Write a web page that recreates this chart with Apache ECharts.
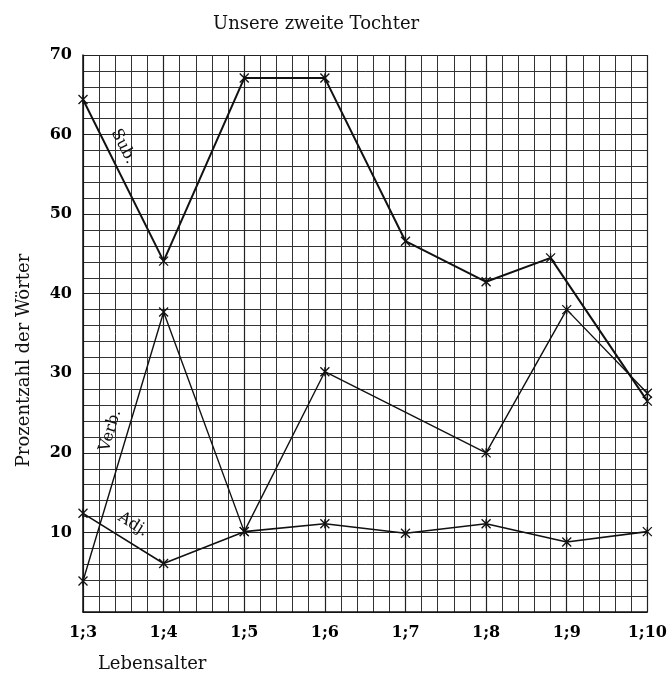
<!DOCTYPE html>
<html>
<head>
<meta charset="utf-8">
<title>Unsere zweite Tochter</title>
<script src="https://cdn.jsdelivr.net/npm/echarts@6/dist/echarts.min.js"></script>
<style>
  html, body { margin: 0; padding: 0; background: #fff; }
  #chart { width: 670px; height: 678px; }
</style>
</head>
<body>
<div id="chart"></div>
<script>
// Lebensalter in Monaten (1;3 = 3 ... 1;10 = 10)
const ageTicks = [3, 4, 5, 6, 7, 8, 9, 10];
const subAges = [3, 4, 5, 6, 7, 8, 8.8, 10];
const subValues = [64.4, 44.1, 67.1, 67.1, 46.6, 41.5, 44.5, 26.5];
const verbAges = [3, 4, 5, 6, 8, 9, 10];
const verbValues = [3.9, 37.7, 10.1, 30.2, 20.0, 38.0, 27.5];
const adjAges = [3, 4, 5, 6, 7, 8, 9, 10];
const adjValues = [12.4, 6.1, 10.1, 11.1, 9.9, 11.1, 8.8, 10.1];

const serif = 'DejaVu Serif';
const cross = 'path://M0,0L10,10M10,0L0,10M5,0L5,10';

function pairs(xs, ys) {
  return xs.map((x, i) => [x, ys[i]]);
}

function lineLabel(text, coord, rotate) {
  return {
    symbolSize: 0,
    data: [{ coord: coord }],
    label: {
      show: true,
      position: 'inside',
      formatter: text,
      rotate: rotate,
      color: '#111',
      fontFamily: serif,
      fontSize: 16
    }
  };
}

function makeSeries(name, xs, ys, width, label) {
  return {
    name: name,
    type: 'line',
    data: pairs(xs, ys),
    symbol: cross,
    symbolSize: 9,
    lineStyle: { color: '#111', width: width },
    itemStyle: { color: 'transparent', borderColor: '#111', borderWidth: 1.3 },
    markPoint: label,
    animation: false,
    z: 5
  };
}

const chart = echarts.init(document.getElementById('chart'));
chart.setOption({
  backgroundColor: '#fff',
  title: {
    text: 'Unsere zweite Tochter',
    left: 208,
    top: 10,
    textStyle: { fontFamily: serif, fontSize: 18, fontWeight: 'normal', color: '#111' }
  },
  grid: { left: 83, right: 22, top: 55, bottom: 60 },
  xAxis: {
    type: 'value',
    min: 3,
    max: 10,
    interval: 1,
    name: 'Lebensalter',
    nameLocation: 'middle',
    nameGap: 43,
    nameTextStyle: { fontFamily: serif, fontSize: 18, color: '#111', padding: [0, 426, 0, 0] },
    axisLine: { lineStyle: { color: '#111', width: 1.5 } },
    axisTick: { show: false },
    axisLabel: {
      fontFamily: serif, fontSize: 16, fontWeight: 'bold', color: '#000', margin: 13,
      formatter: v => '1;' + v
    },
    splitLine: { show: true, lineStyle: { color: '#222', width: 1.2 } },
    minorTick: { show: false, splitNumber: 5 },
    minorSplitLine: { show: true, lineStyle: { color: '#333', width: 1 } }
  },
  yAxis: {
    type: 'value',
    min: 0,
    max: 70,
    interval: 10,
    name: 'Prozentzahl der Wörter',
    nameLocation: 'middle',
    nameRotate: 90,
    nameGap: 50,
    nameTextStyle: { fontFamily: serif, fontSize: 18, color: '#111', padding: [0, 54, 0, 0] },
    axisLine: { show: true, lineStyle: { color: '#111', width: 1.5 } },
    axisTick: { show: false },
    axisLabel: {
      fontFamily: serif, fontSize: 16, fontWeight: 'bold', color: '#000', margin: 11,
      formatter: v => (v === 0 ? '' : v)
    },
    splitLine: { show: true, lineStyle: { color: '#222', width: 1.2 } },
    minorTick: { show: false, splitNumber: 5 },
    minorSplitLine: { show: true, lineStyle: { color: '#333', width: 1 } }
  },
  series: [
    makeSeries('Sub.', subAges, subValues, 2, lineLabel('Sub.', [3.5, 58.5], -63)),
    makeSeries('Verb.', verbAges, verbValues, 1.4, lineLabel('Verb.', [3.34, 22.8], 73)),
    makeSeries('Adj.', adjAges, adjValues, 1.6, lineLabel('Adj.', [3.62, 11], -32))
  ]
});
</script>
</body>
</html>
